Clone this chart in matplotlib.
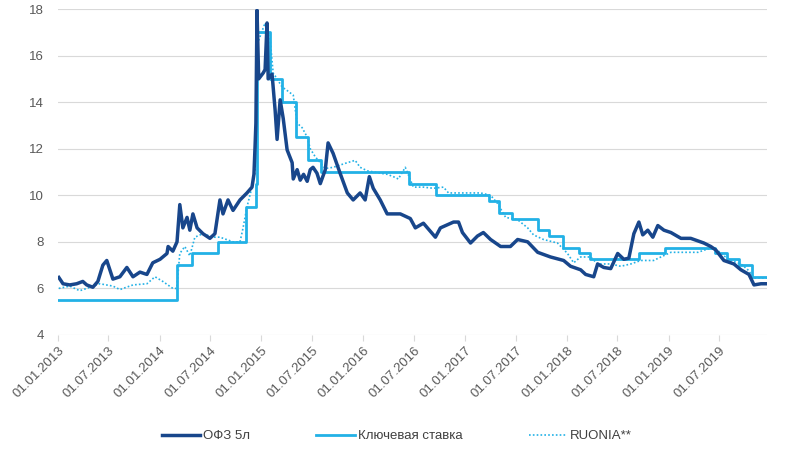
import numpy as np
import pandas as pd
import matplotlib
matplotlib.use("Agg")
import matplotlib.pyplot as plt
import matplotlib.dates as mdates

plt.rcParams['font.family'] = ['Liberation Sans', 'DejaVu Sans']

# ОФЗ 5л
ofz_dates = ["2013-01-04", "2013-01-19", "2013-02-12", "2013-03-09", "2013-03-31", "2013-04-14",
             "2013-05-06", "2013-05-24", "2013-06-11", "2013-06-25", "2013-07-06", "2013-07-17",
             "2013-08-11", "2013-09-05", "2013-09-27", "2013-10-22", "2013-11-16", "2013-12-07",
             "2014-01-02", "2014-01-27", "2014-01-31", "2014-02-17", "2014-03-04", "2014-03-14",
             "2014-03-25", "2014-04-09", "2014-04-19", "2014-04-30", "2014-05-15", "2014-06-05",
             "2014-06-30", "2014-07-18", "2014-08-05", "2014-08-16", "2014-09-03", "2014-09-21",
             "2014-10-16", "2014-11-10", "2014-11-28", "2014-12-05", "2014-12-09", "2014-12-12",
             "2014-12-16", "2014-12-22", "2015-01-07", "2015-01-14", "2015-01-21", "2015-01-25",
             "2015-02-08", "2015-02-19", "2015-02-26", "2015-03-09", "2015-03-20", "2015-04-03",
             "2015-04-21", "2015-04-25", "2015-05-09", "2015-05-20", "2015-06-01", "2015-06-14",
             "2015-06-25", "2015-07-05", "2015-07-19", "2015-07-31", "2015-08-18", "2015-08-28",
             "2015-09-15", "2015-10-10", "2015-11-05", "2015-11-26", "2015-12-21", "2016-01-08",
             "2016-01-23", "2016-02-06", "2016-03-02", "2016-03-27", "2016-04-18", "2016-05-13",
             "2016-06-18", "2016-07-06", "2016-08-04", "2016-09-16", "2016-10-04", "2016-11-20",
             "2016-12-08", "2016-12-22", "2017-01-20", "2017-02-14", "2017-03-07", "2017-04-02",
             "2017-05-08", "2017-06-12", "2017-07-08", "2017-08-13", "2017-09-18", "2017-11-03",
             "2017-12-20", "2018-01-14", "2018-02-19", "2018-03-09", "2018-04-07", "2018-04-21",
             "2018-05-13", "2018-06-07", "2018-07-02", "2018-07-24", "2018-08-11", "2018-08-29",
             "2018-09-16", "2018-09-30", "2018-10-18", "2018-11-05", "2018-11-23", "2018-12-15",
             "2019-01-09", "2019-02-14", "2019-03-21", "2019-05-07", "2019-06-01", "2019-06-19",
             "2019-07-18", "2019-08-23", "2019-09-17", "2019-10-16", "2019-11-03", "2019-11-28",
             "2019-12-20"]
ofz_values = [6.47, 6.2, 6.15, 6.2, 6.3, 6.15,
              6.05, 6.3, 7.0, 7.2, 6.8, 6.4,
              6.5, 6.9, 6.5, 6.7, 6.6, 7.1,
              7.25, 7.5, 7.8, 7.6, 8.0, 9.6,
              8.6, 9.05, 8.5, 9.2, 8.6, 8.35,
              8.15, 8.35, 9.8, 9.2, 9.8, 9.35,
              9.8, 10.1, 10.35, 10.9, 12.1, 13.1,
              17.95, 15.0, 15.25, 15.4, 17.4, 15.0,
              15.2, 13.65, 12.4, 14.1, 13.3, 11.95,
              11.4, 10.7, 11.1, 10.65, 10.9, 10.6,
              11.1, 11.2, 10.95, 10.5, 11.1, 12.25,
              11.8, 10.95, 10.1, 9.8, 10.1, 9.8,
              10.8, 10.3, 9.8, 9.2, 9.2, 9.2,
              9.0, 8.6, 8.8, 8.2, 8.6, 8.85,
              8.85, 8.4, 7.95, 8.25, 8.4, 8.1,
              7.8, 7.8, 8.1, 8.0, 7.55, 7.35,
              7.2, 6.95, 6.8, 6.6, 6.5, 7.05,
              6.9, 6.85, 7.5, 7.25, 7.3, 8.35,
              8.85, 8.3, 8.5, 8.2, 8.7, 8.5,
              8.4, 8.15, 8.15, 7.95, 7.8, 7.65,
              7.2, 7.05, 6.8, 6.6, 6.15, 6.2,
              6.2]

# Ключевая ставка
key_dates = ["2013-01-01", "2014-03-03", "2014-04-28", "2014-07-28", "2014-11-05", "2014-12-12",
             "2014-12-16", "2015-02-02", "2015-03-16", "2015-05-05", "2015-06-16", "2015-08-03",
             "2016-06-14", "2016-09-19", "2017-03-27", "2017-05-02", "2017-06-19", "2017-09-18",
             "2017-10-30", "2017-12-18", "2018-02-12", "2018-03-26", "2018-09-17", "2018-12-17",
             "2019-06-17", "2019-07-29", "2019-09-09", "2019-10-28", "2019-12-20"]
key_values = [5.5, 7.0, 7.5, 8.0, 9.5, 10.5,
              17.0, 15.0, 14.0, 12.5, 11.5, 11.0,
              10.5, 10.0, 9.75, 9.25, 9.0, 8.5,
              8.25, 7.75, 7.5, 7.25, 7.5, 7.75,
              7.5, 7.25, 7.0, 6.5, 6.5]

# RUONIA**
ruonia_dates = ["2013-01-04", "2013-02-12", "2013-03-20", "2013-04-14", "2013-05-31", "2013-07-17",
                "2013-08-11", "2013-09-27", "2013-11-16", "2013-12-15", "2014-01-12", "2014-02-17",
                "2014-03-03", "2014-03-14", "2014-04-01", "2014-04-19", "2014-05-07", "2014-06-05",
                "2014-07-11", "2014-08-05", "2014-09-21", "2014-10-16", "2014-10-27", "2014-11-10",
                "2014-11-28", "2014-12-09", "2014-12-17", "2015-01-14", "2015-02-01", "2015-02-12",
                "2015-02-26", "2015-03-16", "2015-04-03", "2015-04-25", "2015-05-09", "2015-05-27",
                "2015-06-14", "2015-06-25", "2015-07-13", "2015-07-31", "2015-08-18", "2015-09-15",
                "2015-11-05", "2015-12-03", "2015-12-21", "2016-01-16", "2016-03-02", "2016-03-27",
                "2016-04-18", "2016-05-06", "2016-05-31", "2016-06-29", "2016-08-04", "2016-09-09",
                "2016-10-15", "2016-11-02", "2016-12-26", "2017-02-25", "2017-04-02", "2017-04-27",
                "2017-05-26", "2017-07-08", "2017-08-13", "2017-09-03", "2017-10-09", "2017-11-28",
                "2018-01-03", "2018-01-25", "2018-02-19", "2018-03-27", "2018-04-21", "2018-06-07",
                "2018-07-13", "2018-08-18", "2018-09-23", "2018-11-08", "2018-12-04", "2019-01-09",
                "2019-02-24", "2019-04-16", "2019-05-22", "2019-06-19", "2019-07-18", "2019-08-11",
                "2019-09-17", "2019-10-12", "2019-11-03", "2019-12-20"]
ruonia_values = [6.0, 6.1, 5.9, 6.0, 6.2, 6.1,
                 5.95, 6.15, 6.2, 6.5, 6.3, 6.0,
                 6.0, 7.5, 7.8, 7.4, 8.2, 8.35,
                 8.2, 8.2, 8.0, 8.0, 8.6, 9.5,
                 10.35, 11.0, 16.5, 17.4, 16.7, 15.25,
                 15.0, 14.65, 14.5, 14.3, 13.1, 12.9,
                 12.5, 12.0, 11.65, 11.4, 11.15, 11.2,
                 11.4, 11.5, 11.2, 11.05, 10.95, 10.9,
                 10.8, 10.7, 11.2, 10.35, 10.35, 10.3,
                 10.35, 10.1, 10.1, 10.1, 10.0, 9.65,
                 9.05, 8.95, 8.6, 8.3, 8.1, 7.95,
                 7.5, 7.1, 7.35, 7.35, 7.05, 7.05,
                 6.95, 7.05, 7.2, 7.2, 7.35, 7.55,
                 7.55, 7.55, 7.7, 7.7, 7.4, 7.2,
                 7.05, 6.8, 6.45, 6.45]

tick_dates = pd.date_range("2013-01-01", "2019-07-01", freq="6MS")

dark = "#18468b"
cyan = "#22b1e6"
txt = "#595959"
fs = 9.5

fig = plt.figure(figsize=(7.87, 4.5), dpi=100)
ax = fig.add_axes([0.0737, 0.2556, 0.901, 0.7244])

ax.plot(pd.to_datetime(ruonia_dates), ruonia_values, color=cyan, lw=1.2,
        linestyle=(0, (1, 1.3)), label="RUONIA**", zorder=2)
ax.plot(pd.to_datetime(key_dates), key_values, color=cyan, lw=2.0,
        drawstyle="steps-post", label="Ключевая ставка", zorder=3)
ax.plot(pd.to_datetime(ofz_dates), ofz_values, color=dark, lw=2.5,
        label="ОФЗ 5л", zorder=4)

ax.set_xlim(pd.Timestamp("2013-01-01"), pd.Timestamp("2019-12-20"))
ax.set_ylim(4, 18)
ax.set_yticks(np.arange(4, 19, 2))
ax.set_xticks(tick_dates)
ax.xaxis.set_major_formatter(mdates.DateFormatter("%d.%m.%Y"))

for s in ax.spines.values():
    s.set_visible(False)
ax.grid(axis="y", color="#d9d9d9", lw=0.8)
ax.set_axisbelow(True)
ax.tick_params(axis="y", length=0, pad=10, labelsize=fs, labelcolor=txt)
ax.tick_params(axis="x", length=4, width=0.8, color="#d9d9d9", pad=3,
               labelsize=fs, labelcolor=txt)
for lab in ax.get_xticklabels():
    lab.set_rotation(45)
    lab.set_ha("right")
    lab.set_va("top")
    lab.set_rotation_mode("anchor")

h, l = ax.get_legend_handles_labels()
order = [2, 1, 0]
leg = fig.legend([h[i] for i in order], [l[i] for i in order], loc="center",
                 bbox_to_anchor=(397 / 787, 1 - 436 / 450), ncol=3, frameon=False,
                 fontsize=fs, handlelength=2.9, handletextpad=0.25, columnspacing=5.0)
for t in leg.get_texts():
    t.set_color("#404040")

fig.savefig("out.png", dpi=100)
